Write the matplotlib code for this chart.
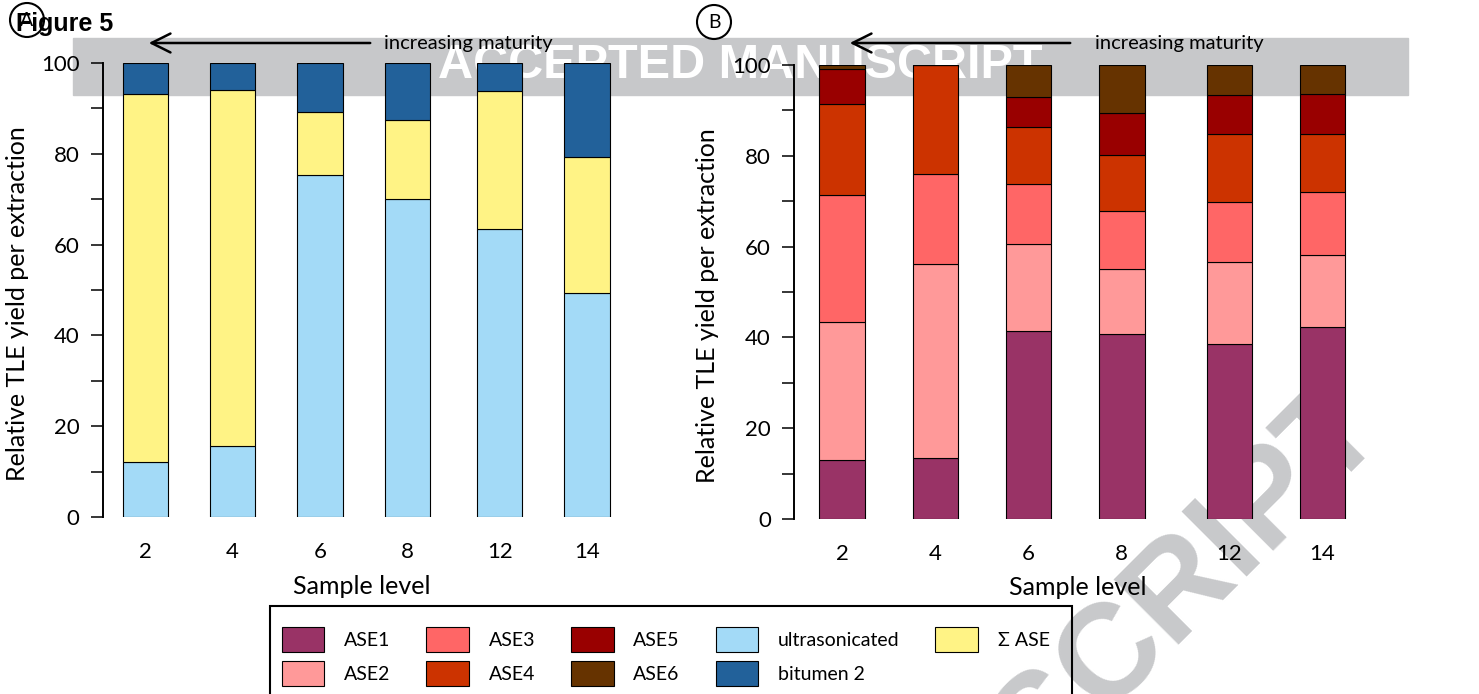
import numpy as np
import matplotlib
matplotlib.use('Agg')
import matplotlib.pyplot as plt
from matplotlib.patches import Rectangle, Circle, FancyArrowPatch
from matplotlib.transforms import IdentityTransform

plt.rcParams['font.family'] = ['Lato', 'DejaVu Sans']

W, H = 1479, 694

SAMPLES = ['2', '4', '6', '8', '12', '14']

# panel A: share of TLE per extraction (%)
ultrasonicated = [12.1, 15.6, 75.3, 70.0, 63.4, 49.3]
sum_ase        = [81.1, 78.5, 13.9, 17.4, 30.4, 30.0]
bitumen2       = [6.8, 5.9, 10.8, 12.6, 6.2, 20.7]

# panel B: single ASE steps (%)
ase1 = [13.0, 13.4, 41.5, 40.7, 38.5, 42.4]
ase2 = [30.5, 42.8, 19.1, 14.4, 18.1, 15.7]
ase3 = [27.8, 19.8, 13.2, 12.8, 13.2, 13.9]
ase4 = [20.0, 24.0, 12.5, 12.3, 14.9, 12.7]
ase5 = [7.8, 0.0, 6.6, 9.3, 8.8, 9.0]
ase6 = [0.9, 0.0, 7.1, 10.5, 6.5, 6.3]

COL_A = ['#a3daf7', '#fff385', '#22619a']
LAB_A = ['ultrasonicated', 'Σ ASE', 'bitumen 2']
COL_B = ['#993366', '#ff9999', '#ff6666', '#cc3300', '#990000', '#663300']
LAB_B = ['ASE1', 'ASE2', 'ASE3', 'ASE4', 'ASE5', 'ASE6']


def fx(x): return x / W
def fy(y): return 1 - y / H


def stack(ax, pos, width, series, colors):
    bottom = np.zeros(len(pos))
    out = []
    for vals, c in zip(series, colors):
        vals = np.asarray(vals)
        out.append(ax.bar(pos, vals, width, bottom=bottom, color=c,
                          edgecolor='black', lw=0.8))
        bottom += vals
    return out


def style(ax, xlim):
    ax.set_facecolor('none')
    ax.set_xlim(*xlim); ax.set_ylim(0, 100)
    for s in ['top', 'right', 'bottom']:
        ax.spines[s].set_visible(False)
    ax.spines['left'].set_linewidth(1.4)
    yt = np.arange(0, 101, 10)
    ax.set_yticks(yt)
    ax.set_yticklabels([str(v) if v % 20 == 0 else '' for v in yt], fontsize=16)
    ax.tick_params(axis='y', length=8.6, width=1.1, pad=8)
    ax.tick_params(axis='x', length=0, pad=18, labelsize=16)
    ax.set_ylabel('Relative TLE yield per extraction', fontsize=18)
    ax.set_xlabel('Sample level', fontsize=18)


fig = plt.figure(figsize=(W / 100, H / 100), dpi=100)

# --- panel A ---
gapA, wA = 0.055, 0.52
posA = np.arange(6) + gapA * (np.arange(6) >= 4)
axA = fig.add_axes([fx(102.5), fy(517), (639.4 - 102.5) / W, 454 / H])
barsA = stack(axA, posA, wA, [ultrasonicated, sum_ase, bitumen2], COL_A)
axA.set_xticks(posA); axA.set_xticklabels(SAMPLES)
style(axA, (-0.49, posA[-1] + 0.6))
axA.yaxis.set_label_coords(-0.137, 0.469)
axA.xaxis.set_label_coords(0.483, -0.127)

# --- panel B ---
gapB, wB = 0.153, 0.488
posB = np.arange(6) + gapB * (np.arange(6) >= 4)
axB = fig.add_axes([fx(794), fy(519), (1378.5 - 794) / W, 454 / H])
barsB = stack(axB, posB, wB, [ase1, ase2, ase3, ase4, ase5, ase6], COL_B)
axB.set_xticks(posB); axB.set_xticklabels(SAMPLES)
style(axB, (-0.515, posB[-1] + 0.6))
axB.yaxis.set_label_coords(-0.128, 0.469)
axB.xaxis.set_label_coords(0.486, -0.125)

# --- watermark (behind the axes) ---
fig.add_artist(Rectangle((fx(73), fy(95)), (1408 - 73) / W, 57 / H,
                         transform=fig.transFigure, color='#c7c8ca', zorder=-3))
fig.text(fx(740), fy(66), 'ACCEPTED MANUSCRIPT', ha='center', va='center',
         fontsize=35, weight='bold', color='white', family='Liberation Sans', zorder=-2)
fig.text(fx(1388), fy(436), 'ACCEPTED MANUSCRIPT', rotation=45, rotation_mode='anchor',
         ha='right', va='baseline', fontsize=96, weight='bold', color='#c8c9cb',
         family='Liberation Sans', zorder=-2)

# --- decorations ---
for x0, x1, xt in [(373, 146, 384), (1073, 847, 1095)]:
    fig.add_artist(FancyArrowPatch((fx(x0), fy(43)), (fx(x1), fy(43)),
                                   transform=fig.transFigure,
                                   arrowstyle='->, head_length=0.4, head_width=0.2',
                                   mutation_scale=34, lw=1.8, color='black'))
    fig.text(fx(xt), fy(43), 'increasing maturity', ha='left', va='center', fontsize=14.5)

for cx, cy, lab in [(27, 20, 'A'), (714, 22, 'B')]:
    fig.add_artist(Circle((cx, H - cy), 17, transform=IdentityTransform(),
                          fill=False, lw=1.5, ec='black'))
    fig.text(fx(cx), fy(cy), lab, ha='center', va='center', fontsize=14)

fig.text(fx(16), fy(24), 'Figure 5', ha='left', va='center', fontsize=18,
         weight='bold', family='Liberation Sans')

# --- legend (own frame, open at the bottom edge like the source) ---
fig.add_artist(Rectangle((fx(269.5), fy(720)), (1072 - 269.5) / W, (720 - 605.7) / H,
                         transform=fig.transFigure, fill=False, ec='black', lw=1.5))
handles = [b.patches[0] for b in barsB] + [barsA[0].patches[0], barsA[2].patches[0], barsA[1].patches[0]]
labels = LAB_B + ['ultrasonicated', 'bitumen 2', 'Σ ASE']
leg = fig.legend(handles, labels, ncol=5, loc='upper left',
                 bbox_to_anchor=(fx(281.7), fy(627)), borderaxespad=0,
                 fontsize=14, handlelength=2.2, handleheight=1.6,
                 handletextpad=1.0, columnspacing=1.85, labelspacing=0.45,
                 borderpad=0, frameon=False)

fig.savefig('out.png', dpi=100)
